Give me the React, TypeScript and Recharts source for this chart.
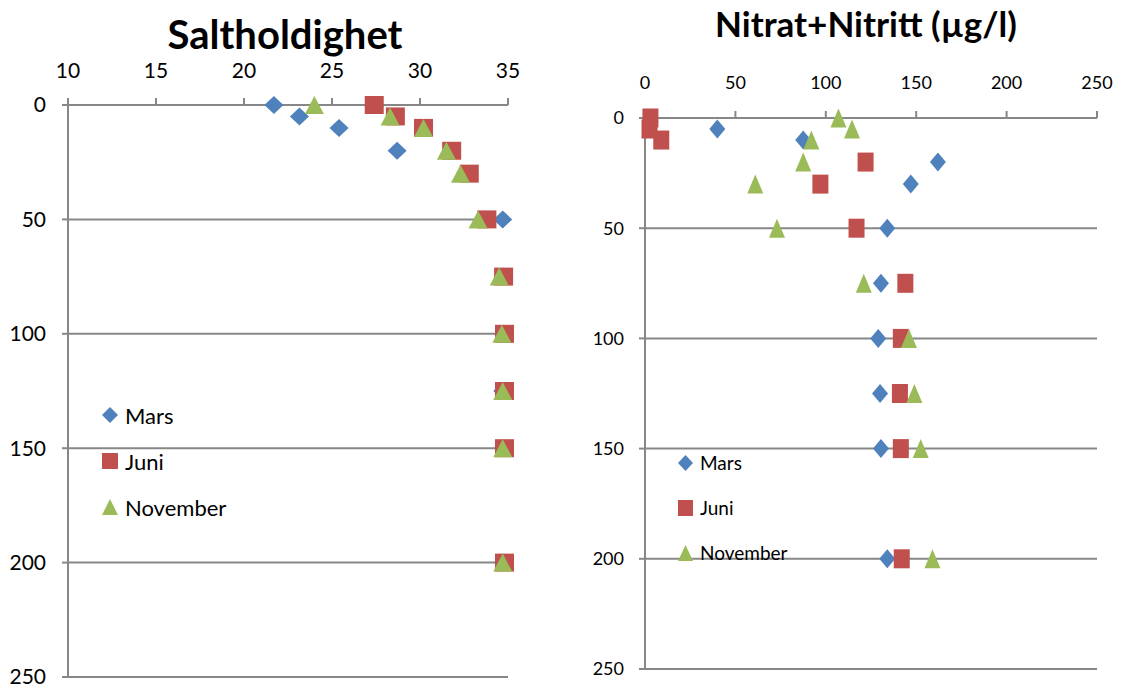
import React from 'react';
import { ScatterChart, Scatter, XAxis, YAxis, CartesianGrid } from 'recharts';

// Saltholdighet (salinity) vs depth
const saltTicks = [10, 15, 20, 25, 30, 35];
const depthTicks = [0, 50, 100, 150, 200, 250];

const saltDepthMars = [0, 5, 10, 20, 50, 75, 100, 125, 150, 200];
const saltMars = [21.7, 23.15, 25.4, 28.7, 34.7, 34.75, 34.75, 34.7, 34.75, 34.75];
const saltDepthJuni = [0, 5, 10, 20, 30, 50, 75, 100, 125, 150, 200];
const saltJuni = [27.4, 28.6, 30.2, 31.8, 32.8, 33.8, 34.75, 34.8, 34.8, 34.8, 34.8];
const saltDepthNov = [0, 5, 10, 20, 30, 50, 75, 100, 125, 150, 200];
const saltNov = [24.0, 28.3, 30.2, 31.5, 32.3, 33.3, 34.5, 34.65, 34.7, 34.7, 34.7];

// Nitrat+Nitritt vs depth
const nitTicks = [0, 50, 100, 150, 200, 250];
const nitDepthMars = [5, 10, 20, 30, 50, 75, 100, 125, 150, 200];
const nitMars = [40, 87.5, 162, 147, 134, 130.5, 129, 130, 130.5, 134];
const nitDepthJuni = [0, 5, 10, 20, 30, 50, 75, 100, 125, 150, 200];
const nitJuni = [3, 2.5, 9, 122, 97, 117, 144, 141.5, 141, 141.5, 142];
const nitDepthNov = [0, 5, 10, 20, 30, 50, 75, 100, 125, 150, 200];
const nitNov = [107, 114.5, 92, 87.5, 61, 73, 121, 146, 149, 152.5, 159];

const seriesNames = ['Mars', 'Juni', 'November'];

const BLUE = '#4F81BD';
const RED = '#C0504D';
const GREEN = '#9BBB59';
const GRID = '#878787';
const FONT = 'Lato, "Liberation Sans", sans-serif';

const zip = (depths: number[], vals: number[]) => depths.map((d, i) => ({ x: vals[i], y: d }));

type Kind = 'diamond' | 'square' | 'triangle';

function MarkerSvg({ kind, color, cx, cy, w, h }: { kind: Kind; color: string; cx: number; cy: number; w: number; h: number }) {
  if (kind === 'square') {
    return <rect x={cx - w / 2} y={cy - h / 2} width={w} height={h} fill={color} />;
  }
  if (kind === 'diamond') {
    const pts = `${cx},${cy - h / 2} ${cx + w / 2},${cy} ${cx},${cy + h / 2} ${cx - w / 2},${cy}`;
    return <polygon points={pts} fill={color} />;
  }
  const pts = `${cx},${cy - h / 2} ${cx + w / 2},${cy + h / 2} ${cx - w / 2},${cy + h / 2}`;
  return <polygon points={pts} fill={color} />;
}

const shapeOf = (kind: Kind, color: string, w: number, h: number) => (props: any) => {
  const { cx, cy } = props;
  if (cx == null || cy == null) return <g />;
  return <MarkerSvg kind={kind} color={color} cx={cx} cy={cy} w={w} h={h} />;
};

const kinds: Kind[] = ['diamond', 'square', 'triangle'];
const colors = [BLUE, RED, GREEN];

function LegendBox({ left, top, rowH, fontSize, iconW, iconH }: { left: number; top: number; rowH: number; fontSize: number; iconW: number; iconH: number }) {
  return (
    <div style={{ position: 'absolute', left, top, fontFamily: FONT, fontSize, color: '#000' }}>
      {seriesNames.map((n, i) => (
        <div key={n} style={{ height: rowH, display: 'flex', alignItems: 'center' }}>
          <svg width={iconW} height={iconH} style={{ marginRight: 7 }}>
            <MarkerSvg kind={kinds[i]} color={colors[i]} cx={iconW / 2} cy={iconH / 2} w={iconW} h={iconH} />
          </svg>
          <span>{n}</span>
        </div>
      ))}
    </div>
  );
}

export default function App() {
  const saltSets = [zip(saltDepthMars, saltMars), zip(saltDepthJuni, saltJuni), zip(saltDepthNov, saltNov)];
  const nitSets = [zip(nitDepthMars, nitMars), zip(nitDepthJuni, nitJuni), zip(nitDepthNov, nitNov)];

  return (
    <div style={{ position: 'absolute', left: 0, top: 0, width: 1122, height: 693, background: '#fff', overflow: 'hidden' }}>
      <div style={{ position: 'absolute', left: 0, width: 570, top: 8, textAlign: 'center', fontFamily: FONT, fontWeight: 700, fontSize: 40, lineHeight: '52px' }}>
        Saltholdighet
      </div>
      <div style={{ position: 'absolute', left: 560, width: 612, top: 0, textAlign: 'center', fontFamily: FONT, fontWeight: 700, fontSize: 35, lineHeight: '46px' }}>
        Nitrat+Nitritt (µg/l)
      </div>

      <div style={{ position: 'absolute', left: 0, top: 0 }}>
        <ScatterChart width={560} height={693} margin={{ top: 65, right: 52, bottom: 16, left: 0 }}>
          <CartesianGrid vertical={false} stroke={GRID} strokeWidth={2} />
          <XAxis
            type="number"
            dataKey="x"
            orientation="top"
            domain={[10, 35]}
            ticks={saltTicks}
            height={40}
            axisLine={{ stroke: GRID, strokeWidth: 2 }}
            tickLine={{ stroke: GRID, strokeWidth: 2 }}
            tickSize={7}
            tickMargin={20}
            tick={{ fontSize: 21, fill: '#000', fontFamily: FONT }}
          />
          <YAxis
            type="number"
            dataKey="y"
            reversed
            domain={[0, 250]}
            ticks={depthTicks}
            width={68}
            axisLine={{ stroke: GRID, strokeWidth: 2 }}
            tickLine={{ stroke: GRID, strokeWidth: 2 }}
            tickSize={6}
            tickMargin={16}
            tick={{ fontSize: 21, fill: '#000', fontFamily: FONT }}
          />
          {saltSets.map((d, i) => (
            <Scatter key={i} name={seriesNames[i]} data={d} isAnimationActive={false} shape={shapeOf(kinds[i], colors[i], 19, 18)} />
          ))}
        </ScatterChart>
      </div>
      <LegendBox left={102} top={392} rowH={46} fontSize={22} iconW={16} iconH={16} />

      <div style={{ position: 'absolute', left: 560, top: 0 }}>
        <ScatterChart width={562} height={693} margin={{ top: 78, right: 25, bottom: 24, left: 0 }}>
          <CartesianGrid vertical={false} stroke={GRID} strokeWidth={2} />
          <XAxis
            type="number"
            dataKey="x"
            orientation="top"
            domain={[0, 250]}
            ticks={nitTicks}
            height={40}
            axisLine={{ stroke: GRID, strokeWidth: 2 }}
            tickLine={{ stroke: GRID, strokeWidth: 2 }}
            tickSize={7}
            tickMargin={22}
            tick={{ fontSize: 18, fill: '#000', fontFamily: FONT }}
          />
          <YAxis
            type="number"
            dataKey="y"
            reversed
            domain={[0, 250]}
            ticks={depthTicks}
            width={85}
            axisLine={{ stroke: GRID, strokeWidth: 2 }}
            tickLine={{ stroke: GRID, strokeWidth: 2 }}
            tickSize={6}
            tickMargin={15}
            tick={{ fontSize: 18, fill: '#000', fontFamily: FONT }}
          />
          {nitSets.map((d, i) => (
            <Scatter key={i} name={seriesNames[i]} data={d} isAnimationActive={false} shape={shapeOf(kinds[i], colors[i], 16, 19)} />
          ))}
        </ScatterChart>
      </div>
      <LegendBox left={678} top={440} rowH={45} fontSize={19} iconW={15} iconH={16} />
    </div>
  );
}
